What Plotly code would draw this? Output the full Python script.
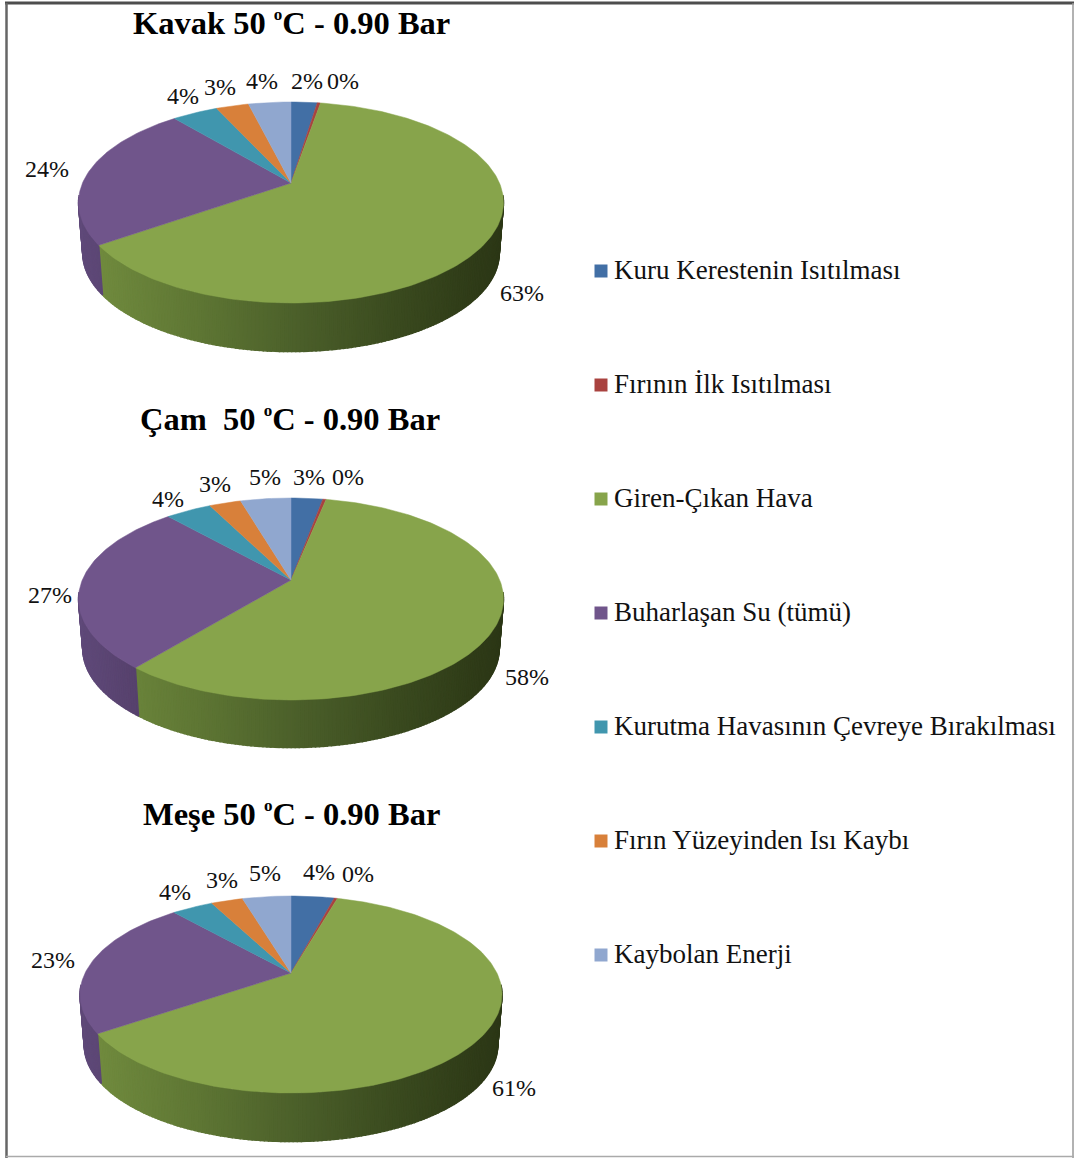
import numpy as np
import plotly.graph_objects as go

categories = ["Kuru Kerestenin Isıtılması", "Fırının İlk Isıtılması", "Giren-Çıkan Hava",
              "Buharlaşan Su (tümü)", "Kurutma Havasının Çevreye Bırakılması",
              "Fırın Yüzeyinden Isı Kaybı", "Kaybolan Enerji"]
colors = ["#426fa5", "#a9423f", "#87a44b", "#70558b", "#4096ae", "#d8803a", "#90a7cf"]

DEG = '<sup><span style="font-size:17px">o</span></sup>'
titles = ["Kavak 50 " + DEG + "C - 0.90 Bar", "Çam  50 " + DEG + "C - 0.90 Bar", "Meşe 50 " + DEG + "C - 0.90 Bar"]
kavak = [2.4, 0.3, 62.6, 23.6, 4.2, 3.0, 3.9]
cam = [2.9, 0.3, 57.8, 27.3, 4.2, 2.9, 4.6]
mese = [4.1, 0.3, 61.0, 23.1, 3.9, 3.0, 4.6]
series = [kavak, cam, mese]

# geometry of each drawn pie, in page pixels: apex x, apex y, half width, px above apex, px below apex, wall
pies = [dict(cx=291, cy=183, hw=212.5, up=81, down=120, wall=51),
        dict(cx=291, cy=580, hw=212.5, up=82, down=120, wall=50),
        dict(cx=291, cy=973, hw=211, up=77, down=120, wall=51)]
title_xy = [(291, 23), (290, 419), (291, 814)]
label_xy = [
    [(307, 81), (343, 81), (522, 293), (47, 169), (183, 96), (220, 87), (262, 81)],
    [(309, 477), (348, 477), (527, 677), (50, 595), (168, 499), (215, 484), (265, 477)],
    [(319, 872), (358, 874), (514, 1088), (53, 960), (175, 892), (222, 880), (265, 873)],
]
legend_y = [270, 384, 498, 612, 726, 840, 954]

green_x = [100, 200, 300, 400, 480, 504]
green_rgb = [(112, 138, 62), (94, 118, 52), (75, 95, 42), (58, 74, 31), (47, 59, 24), (44, 55, 22)]
purple_x = [75, 140]
purple_rgb = [(96, 74, 122), (86, 65, 108)]


def project(p, theta, scale=1.0, drop=0.0):
    k = (p["down"] - p["up"]) / (p["down"] + p["up"])
    b = p["up"] * (1 + k)
    a = p["hw"] * np.sqrt(1 - k ** 2)
    w = 1 + k * np.cos(theta)
    return (p["cx"] + scale * a * np.sin(theta) / w,
            p["cy"] + drop - scale * b * np.cos(theta) / w)


def shade(x, xs, rgbs):
    c = [np.interp(x, xs, [r[i] for r in rgbs]) for i in range(3)]
    return "rgb(%d,%d,%d)" % tuple(c)


def poly(xs, ys, color, width=0.8):
    return go.Scatter(x=list(xs), y=list(ys), mode="lines", fill="toself", fillcolor=color,
                      line=dict(color=color, width=width), hoverinfo="skip", showlegend=False)


fig = go.Figure()
annotations = []
VIS0, VIS1 = np.radians(97), np.radians(263)

for p, vals, ttl, txy, lxy in zip(pies, series, titles, title_xy, label_xy):
    edges = np.concatenate([[0], np.cumsum(vals)]) / sum(vals) * 2 * np.pi
    # side walls (front part of the drum), drawn left-to-right so each strip covers the seam of the last
    for i, (a0, a1) in enumerate(zip(edges[:-1], edges[1:])):
        lo, hi = max(a0, VIS0), min(a1, VIS1)
        if hi <= lo:
            continue
        cuts = np.linspace(lo, hi, max(2, int((hi - lo) / 0.016) + 1))
        for t0, t1 in zip(cuts[:-1], cuts[1:]):
            tt = np.array([t0, t1])
            xa, ya = project(p, tt)
            xb, yb = project(p, tt[::-1], 0.98, p["wall"])
            xm = xa.mean()
            col = shade(xm, green_x, green_rgb) if i == 2 else shade(xm, purple_x, purple_rgb)
            fig.add_trace(poly(np.r_[xa, xb, xa[0]], np.r_[ya, yb, ya[0]], col, 1.4))
    # top faces
    for i, (a0, a1) in enumerate(zip(edges[:-1], edges[1:])):
        tt = np.linspace(a0, a1, max(3, int((a1 - a0) / 0.02)))
        xa, ya = project(p, tt)
        fig.add_trace(poly(np.r_[p["cx"], xa, p["cx"]], np.r_[p["cy"], ya, p["cy"]], colors[i], 0.5))
    annotations.append(dict(x=txy[0], y=txy[1], text="<b>%s</b>" % ttl, showarrow=False,
                            font=dict(family="Liberation Serif", size=32.5, color="#000")))
    for v, (lx, ly) in zip(vals, lxy):
        annotations.append(dict(x=lx, y=ly, text="%d%%" % round(v), showarrow=False,
                                font=dict(family="Liberation Serif", size=24, color="#111")))

# legend
fig.add_trace(go.Scatter(x=[601] * len(categories), y=[v + 1 for v in legend_y], mode="markers",
                         marker=dict(symbol="square", size=13, color=colors), hoverinfo="skip",
                         showlegend=False))
for name, y in zip(categories, legend_y):
    annotations.append(dict(x=612, y=y, text=name, showarrow=False, xanchor="left",
                            font=dict(family="Liberation Serif", size=27, color="#111")))

shapes = [
    dict(type="line", x0=5, x1=1074, y0=3, y1=3, line=dict(color="#4d4d4d", width=3)),
    dict(type="line", x0=6.5, x1=6.5, y0=3, y1=1158, line=dict(color="#666666", width=2.5)),
    dict(type="line", x0=1073, x1=1073, y0=3, y1=1158, line=dict(color="#999999", width=1.5)),
    dict(type="line", x0=6, x1=1074, y0=1156.5, y1=1156.5, line=dict(color="#aaaaaa", width=1.5)),
]

fig.update_layout(width=1074, height=1158, margin=dict(l=0, r=0, t=0, b=0),
                  paper_bgcolor="white", plot_bgcolor="white", annotations=annotations, shapes=shapes,
                  xaxis=dict(range=[0, 1074], visible=False, fixedrange=True),
                  yaxis=dict(range=[1158, 0], visible=False, fixedrange=True))
fig.write_html("out.html", post_script="document.body.style.margin='0';document.body.style.overflow='hidden';",
               config=dict(displayModeBar=False))
